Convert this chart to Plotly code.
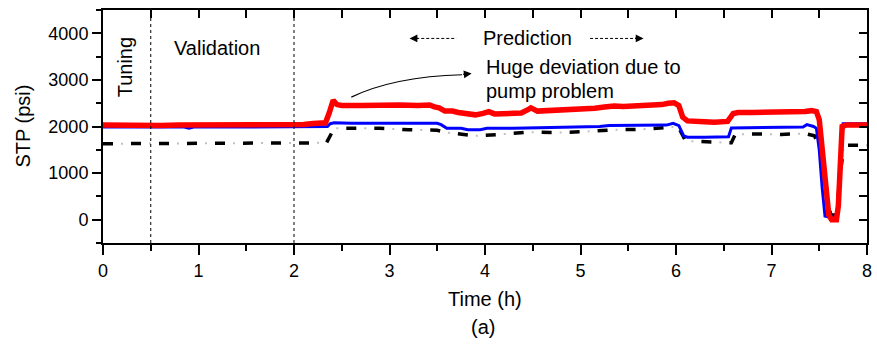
import plotly.graph_objects as go

# ---------------- data ----------------
red_t = [0, 0.2, 0.4, 0.6, 0.8, 1.0, 1.2, 1.4, 1.6, 1.8, 2.0, 2.1, 2.2, 2.33, 2.37, 2.41, 2.45,
         2.5, 2.7, 2.9, 3.1, 3.3, 3.42, 3.47, 3.52, 3.58, 3.66, 3.72, 3.8, 3.9, 3.98, 4.04, 4.1,
         4.2, 4.3, 4.38, 4.45, 4.48, 4.55, 4.65, 4.75, 4.85, 4.95, 5.05, 5.15, 5.25, 5.35, 5.45,
         5.55, 5.65, 5.75, 5.85, 5.92, 5.98, 6.03, 6.07, 6.12, 6.2, 6.3, 6.4, 6.5, 6.54, 6.6,
         6.65, 6.8, 6.95, 7.1, 7.25, 7.35, 7.42, 7.47, 7.5, 7.53, 7.57, 7.6, 7.63, 7.68, 7.7,
         7.72, 7.74, 7.78, 7.9, 8.0]
red_v = [2030, 2020, 2030, 2020, 2030, 2030, 2030, 2040, 2035, 2040, 2040, 2045, 2065, 2080,
         2300, 2560, 2470, 2450, 2450, 2460, 2460, 2450, 2460, 2420, 2400, 2330, 2330, 2300,
         2280, 2250, 2280, 2320, 2270, 2280, 2290, 2290, 2360, 2400, 2330, 2340, 2340, 2360,
         2370, 2360, 2390, 2420, 2440, 2430, 2440, 2460, 2450, 2470, 2500, 2510, 2450, 2200,
         2120, 2100, 2100, 2090, 2100, 2110, 2280, 2300, 2300, 2300, 2310, 2310, 2320, 2340,
         2320, 2150, 1500, 600, 100, 0, 0, 300, 1500, 2000, 2030, 2030, 2030]

blue_t = [0, 0.5, 0.85, 0.9, 0.95, 1.5, 2.0, 2.35, 2.38, 2.42, 2.6, 2.9, 3.2, 3.5, 3.54, 3.6,
          3.75, 3.82, 3.95, 4.02, 4.3, 4.6, 4.9, 5.2, 5.3, 5.6, 5.9, 5.97, 6.03, 6.08, 6.12,
          6.3, 6.5, 6.55, 6.58, 6.8, 7.1, 7.33, 7.37, 7.44, 7.47, 7.5, 7.53, 7.56, 7.6, 7.65,
          7.69, 7.72, 7.75, 8.0]
blue_v = [1990, 1990, 1990, 1965, 1990, 1990, 1995, 2000, 2060, 2080, 2070, 2070, 2080, 2070,
          2040, 1960, 1960, 1930, 1930, 1960, 1960, 1970, 1980, 2000, 2020, 2030, 2030, 2070,
          2020, 1800, 1770, 1770, 1770, 1780, 1970, 1980, 1980, 1990, 2040, 2000, 1960, 1500,
          700, 80, 60, 60, 100, 1200, 2060, 2060]

black_t = [0, 2.1, 2.34, 2.42, 2.6, 2.9, 3.2, 3.5, 3.6, 3.9, 4.15, 4.45, 4.75, 5.05, 5.35, 5.65,
           5.97, 6.03, 6.1, 6.3, 6.5, 6.58, 6.62, 6.8, 7.1, 7.35, 7.45, 7.5, 7.56, 7.62, 7.68,
           7.72, 7.76, 8.0]
black_v = [1630, 1640, 1650, 1960, 1960, 1960, 1930, 1920, 1870, 1800, 1830, 1880, 1870, 1890,
           1930, 1940, 1990, 1970, 1690, 1670, 1650, 1650, 1830, 1840, 1830, 1850, 1800, 1570,
           900, 100, 100, 1000, 1600, 1600]

x_range = [0, 8]
y_range = [-500, 4500]
phase_bounds = [0.5, 2]

FONT = "Liberation Sans, Arial, sans-serif"

fig = go.Figure()

# black dash-dot style (black dashes with light grey dots in gaps)
fig.add_trace(go.Scatter(x=black_t, y=black_v, mode="lines",
                         line=dict(color="black", width=3.5, dash="10px,18px"),
                         showlegend=False, hoverinfo="skip"))
fig.add_trace(go.Scatter(x=black_t, y=black_v, mode="lines",
                         line=dict(color="#c0c0c0", width=2, dash="0px,18px,2px,8px"),
                         showlegend=False, hoverinfo="skip"))
fig.add_trace(go.Scatter(x=blue_t, y=blue_v, mode="lines",
                         line=dict(color="#0000ff", width=3),
                         showlegend=False, hoverinfo="skip"))
fig.add_trace(go.Scatter(x=red_t, y=red_v, mode="lines",
                         line=dict(color="#ff0000", width=5.5),
                         showlegend=False, hoverinfo="skip"))
# dummy trace for mirrored inside ticks
fig.add_trace(go.Scatter(x=[None], y=[None], xaxis="x2", yaxis="y2",
                         showlegend=False, hoverinfo="skip"))

shapes = []
for xb in phase_bounds:
    shapes.append(dict(type="line", xref="x", yref="paper", x0=xb, x1=xb, y0=0, y1=1,
                       line=dict(color="black", width=1, dash="3px,3px")))
# prediction dashed arrows
pred_y = 3890
shapes.append(dict(type="line", xref="x", yref="y", x0=3.28, x1=3.70, y0=pred_y, y1=pred_y,
                   line=dict(color="black", width=1, dash="3px,2px")))
shapes.append(dict(type="line", xref="x", yref="y", x0=5.10, x1=5.58, y0=pred_y, y1=pred_y,
                   line=dict(color="black", width=1, dash="3px,2px")))
# curved arrow
shapes.append(dict(type="path", xref="x", yref="y",
                   path="M 2.6,2630 Q 3.05,3070 3.76,3110",
                   line=dict(color="black", width=1.2)))

annotations = [
    dict(x=0.23, y=3270, xref="x", yref="y", text="Tuning", textangle=-90, showarrow=False,
         font=dict(family=FONT, size=20, color="black")),
    dict(x=1.19, y=3680, xref="x", yref="y", text="Validation", showarrow=False,
         font=dict(family=FONT, size=20, color="black")),
    dict(x=4.44, y=pred_y, xref="x", yref="y", text="Prediction", showarrow=False,
         font=dict(family=FONT, size=20, color="black")),
    dict(x=3.985, y=(220 - 67) / 46.8 * 1000, xref="x", yref="y", text="Huge deviation due to",
         showarrow=False, xanchor="left", font=dict(family=FONT, size=20, color="black")),
    dict(x=3.985, y=(220 - 91) / 46.8 * 1000, xref="x", yref="y", text="pump problem",
         showarrow=False, xanchor="left", font=dict(family=FONT, size=20, color="black")),
    # arrowheads
    dict(x=3.21, y=pred_y, xref="x", yref="y", ax=10, ay=0, showarrow=True, arrowhead=2,
         arrowsize=1.3, arrowwidth=1.2, arrowcolor="black", text=""),
    dict(x=5.66, y=pred_y, xref="x", yref="y", ax=-10, ay=0, showarrow=True, arrowhead=2,
         arrowsize=1.3, arrowwidth=1.2, arrowcolor="black", text=""),
    dict(x=3.86, y=3135, xref="x", yref="y", ax=-10, ay=1, showarrow=True, arrowhead=2,
         arrowsize=1.3, arrowwidth=1.2, arrowcolor="black", text=""),
    # axis titles
    dict(x=0.5, y=-0.239, xref="paper", yref="paper", text="Time (h)", showarrow=False,
         xanchor="center", yanchor="middle",
         font=dict(family=FONT, size=20, color="black")),
    dict(x=-0.106, y=0.5, xref="paper", yref="paper", text="STP (psi)", textangle=-90,
         xanchor="center", yanchor="middle",
         showarrow=False, font=dict(family=FONT, size=20, color="black")),
    dict(x=0.497, y=-0.36, xref="paper", yref="paper", text="(a)", showarrow=False,
         xanchor="center", yanchor="middle",
         font=dict(family=FONT, size=20, color="black")),
]

fig.update_layout(
    width=877, height=354,
    margin=dict(l=103, r=5, t=10, b=111),
    paper_bgcolor="white", plot_bgcolor="white",
    showlegend=False,
    font=dict(family=FONT, size=18, color="black"),
    shapes=shapes, annotations=annotations,
    xaxis=dict(range=x_range, tick0=0, dtick=1, ticks="outside", ticklen=10, tickwidth=1.5,
               tickcolor="black", showline=True, linewidth=2, linecolor="black", mirror=True,
               showgrid=False, zeroline=False, tickfont=dict(family=FONT, size=18),
               minor=dict(dtick=0.5, ticks="outside", ticklen=6, tickwidth=1.5,
                          tickcolor="black", showgrid=False)),
    yaxis=dict(range=y_range, tick0=0, dtick=1000, ticks="outside", ticklen=9, tickwidth=1.5,
               tickcolor="black", showline=True, linewidth=2, linecolor="black", mirror=True,
               showgrid=False, zeroline=False, tickfont=dict(family=FONT, size=18),
               minor=dict(dtick=500, ticks="outside", ticklen=5, tickwidth=1.5,
                          tickcolor="black", showgrid=False)),
    xaxis2=dict(range=x_range, overlaying="x", side="top", anchor="y2", tick0=0, dtick=0.5,
                ticks="inside", ticklen=8, tickwidth=1.5, tickcolor="black",
                showticklabels=False, showline=False, showgrid=False, zeroline=False),
    yaxis2=dict(range=y_range, overlaying="y", side="right", anchor="x2", tick0=-500, dtick=500,
                ticks="inside", ticklen=8, tickwidth=1.5, tickcolor="black",
                showticklabels=False, showline=False, showgrid=False, zeroline=False),
)

fig.write_html("out.html")
